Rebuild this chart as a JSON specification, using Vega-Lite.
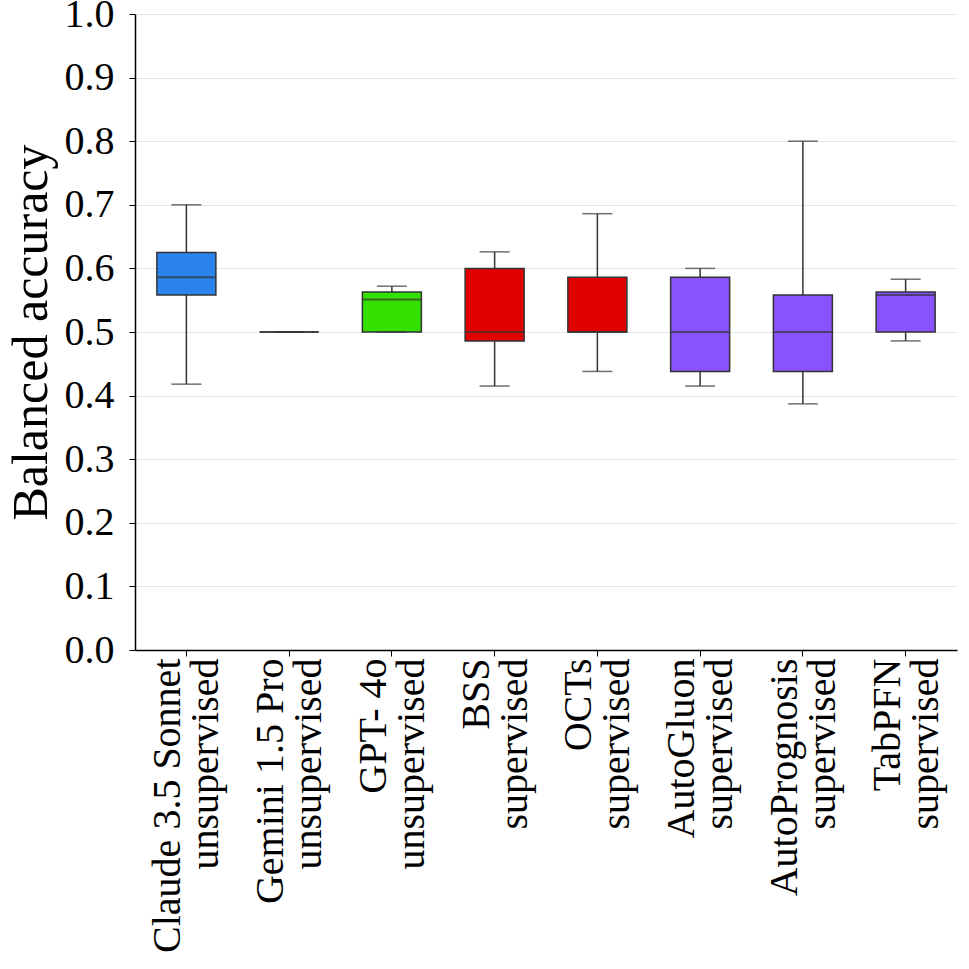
{
  "$schema": "https://vega.github.io/schema/vega-lite/v6.json",
  "width": 822,
  "height": 636,
  "autosize": {"type": "none"},
  "padding": {"left": 135, "top": 14, "right": 12, "bottom": 319},
  "background": "white",
  "config": {
    "view": {"stroke": null},
    "font": "Liberation Serif",
    "axis": {"labelFont": "Liberation Serif", "titleFont": "Liberation Serif", "domainColor": "#000000", "tickColor": "#000000", "labelColor": "#000000", "titleColor": "#000000"}
  },
  "data": {
    "values": [
      {"name": "Claude 3.5 Sonnet|unsupervised", "grp": "claude", "min": 0.418, "q1": 0.558, "median": 0.586, "q3": 0.625, "max": 0.700},
      {"name": "Gemini 1.5 Pro|unsupervised", "grp": "gemini", "min": 0.5, "q1": 0.5, "median": 0.5, "q3": 0.5, "max": 0.5},
      {"name": "GPT- 4o|unsupervised", "grp": "gpt", "min": 0.5, "q1": 0.5, "median": 0.551, "q3": 0.563, "max": 0.572},
      {"name": "BSS|supervised", "grp": "opt", "min": 0.415, "q1": 0.486, "median": 0.5, "q3": 0.600, "max": 0.626},
      {"name": "OCTs|supervised", "grp": "opt", "min": 0.438, "q1": 0.5, "median": 0.5, "q3": 0.586, "max": 0.686},
      {"name": "AutoGluon|supervised", "grp": "automl", "min": 0.415, "q1": 0.438, "median": 0.5, "q3": 0.586, "max": 0.600},
      {"name": "AutoPrognosis|supervised", "grp": "automl", "min": 0.387, "q1": 0.438, "median": 0.5, "q3": 0.558, "max": 0.800},
      {"name": "TabPFN|supervised", "grp": "automl", "min": 0.486, "q1": 0.5, "median": 0.558, "q3": 0.563, "max": 0.583}
    ]
  },
  "encoding": {
    "x": {
      "field": "name", "type": "nominal", "sort": null,
      "scale": {"paddingInner": 0, "paddingOuter": 0},
      "axis": {
        "title": null,
        "labelAngle": -90,
        "labelAlign": "right",
        "labelBaseline": "middle",
        "labelFontSize": 40,
        "labelLineHeight": 38,
        "labelPadding": 2,
        "labelOffset": -18,
        "labelExpr": "split(datum.label, '|')",
        "tickSize": 6,
        "labelLimit": 400,
        "labelOverlap": false,
        "domainWidth": 1.5,
        "tickWidth": 1
      }
    }
  },
  "layer": [
    {
      "mark": {"type": "rule", "color": "#333333", "strokeWidth": 1.5},
      "encoding": {
        "y": {
          "field": "min", "type": "quantitative",
          "scale": {"domain": [0, 1], "nice": false, "zero": false},
          "axis": {
            "title": "Balanced accuracy",
            "titleFontSize": 50,
            "titleFontWeight": "normal",
            "titlePadding": 8,
            "values": [0, 0.1, 0.2, 0.3, 0.4, 0.5, 0.6, 0.7, 0.8, 0.9, 1.0],
            "format": ".1f",
            "labelFontSize": 40,
            "labelPadding": 15,
            "labelOverlap": false,
            "tickSize": 6,
            "grid": true,
            "gridColor": "#e6e6e6",
            "gridWidth": 1,
            "domainWidth": 1.5
          }
        },
        "y2": {"field": "max"}
      }
    },
    {
      "mark": {"type": "bar", "size": 59, "stroke": "#333333", "strokeWidth": 1.5},
      "encoding": {
        "y": {"field": "q1", "type": "quantitative"},
        "y2": {"field": "q3"},
        "fill": {
          "field": "grp", "type": "nominal", "legend": null,
          "scale": {"domain": ["claude", "gemini", "gpt", "opt", "automl"], "range": ["#2b84ec", "#8b6a4a", "#33e000", "#e00000", "#8a52ff"]}
        }
      }
    },
    {
      "mark": {"type": "tick", "size": 59, "thickness": 2, "color": "#333333"},
      "encoding": {"y": {"field": "median", "type": "quantitative"}}
    },
    {
      "mark": {"type": "tick", "size": 30, "thickness": 1.5, "color": "#333333"},
      "encoding": {"y": {"field": "min", "type": "quantitative"}}
    },
    {
      "mark": {"type": "tick", "size": 30, "thickness": 1.5, "color": "#333333"},
      "encoding": {"y": {"field": "max", "type": "quantitative"}}
    }
  ]
}
